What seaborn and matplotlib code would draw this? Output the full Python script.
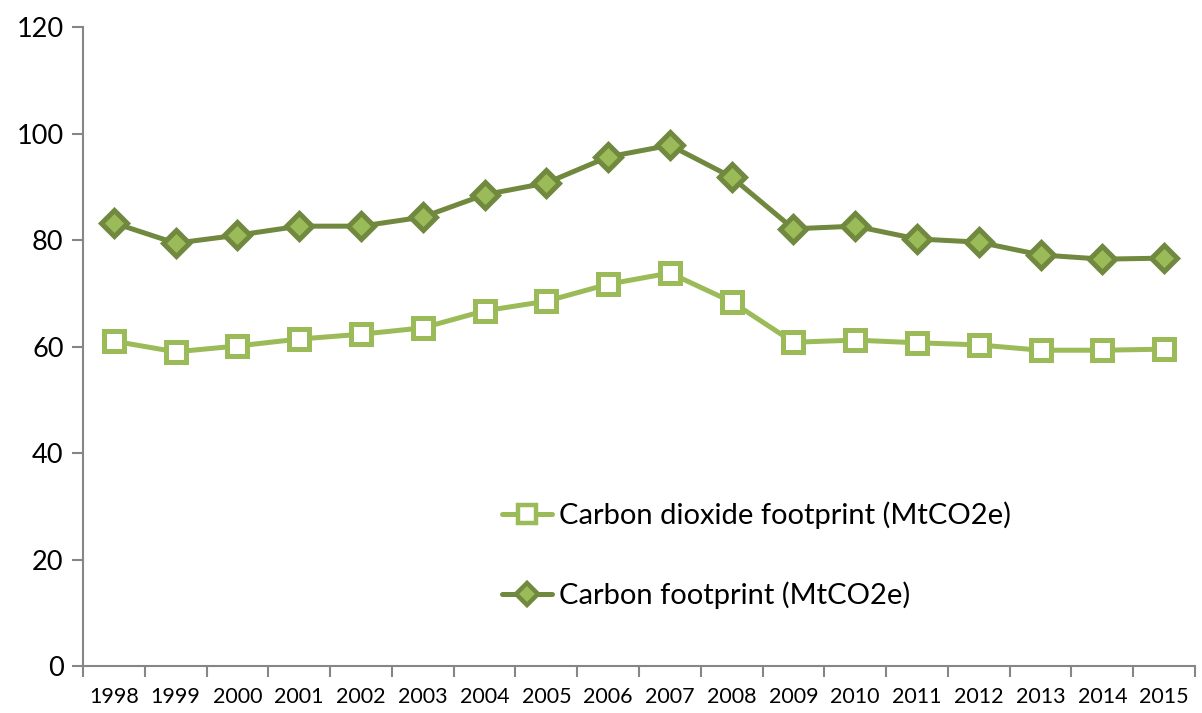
import numpy as np
import pandas as pd
import matplotlib
matplotlib.use("Agg")
import matplotlib.pyplot as plt
import seaborn as sns
from matplotlib.lines import Line2D

years = ["1998", "1999", "2000", "2001", "2002", "2003", "2004", "2005", "2006",
         "2007", "2008", "2009", "2010", "2011", "2012", "2013", "2014", "2015"]
co2_footprint = [61.0, 59.0, 60.1, 61.4, 62.3, 63.5, 66.7, 68.5, 71.7,
                 73.8, 68.4, 60.8, 61.2, 60.7, 60.3, 59.3, 59.3, 59.5]
carbon_footprint = [83.2, 79.4, 80.9, 82.6, 82.6, 84.3, 88.5, 90.7, 95.6,
                    97.8, 91.8, 82.1, 82.6, 80.2, 79.6, 77.2, 76.4, 76.6]
series_names = ["Carbon dioxide footprint (MtCO2e)", "Carbon footprint (MtCO2e)"]
y_ticks = [0, 20, 40, 60, 80, 100, 120]

light_green = "#9BBB59"
dark_green = "#71893F"
axis_grey = "#868686"

sns.set_theme(style="white")
plt.rcParams["font.family"] = ["Lato", "DejaVu Sans"]
plt.rcParams["text.color"] = "black"

fig = plt.figure(figsize=(12.02, 7.13), dpi=100)
ax = fig.add_axes([83 / 1202, 1 - 666 / 713, (1195 - 83) / 1202, (666 - 27) / 713])

pos = np.arange(len(years))
df = pd.DataFrame({"pos": pos, "co2": co2_footprint, "carbon": carbon_footprint})

sns.lineplot(data=df, x="pos", y="co2", ax=ax, color=light_green, linewidth=3.6,
             marker="s", markersize=15, markerfacecolor="white",
             markeredgecolor=light_green, markeredgewidth=3.6, zorder=3)
sns.lineplot(data=df, x="pos", y="carbon", ax=ax, color=dark_green, linewidth=3.6,
             marker="D", markersize=13, markerfacecolor=light_green,
             markeredgecolor=dark_green, markeredgewidth=3.6, zorder=3)

ax.set_xlim(-0.5, len(years) - 0.5)
ax.set_ylim(0, 120)
ax.set_yticks(y_ticks)
ax.set_yticklabels([str(t) for t in y_ticks], fontsize=19.5)
ax.set_xticks(pos)
ax.set_xticklabels(years, fontsize=15.5)
ax.set_xticks(np.arange(len(years) + 1) - 0.5, minor=True)
ax.tick_params(axis="x", which="major", length=0, pad=15, labelcolor="black")
ax.tick_params(axis="x", which="minor", length=8, width=1.5, color=axis_grey,
               direction="out", bottom=True)
ax.tick_params(axis="y", which="major", length=8, width=1.5, color=axis_grey,
               direction="out", left=True, pad=6, labelcolor="black")
ax.set_xlabel("")
ax.set_ylabel("")

for side in ["top", "right"]:
    ax.spines[side].set_visible(False)
for side in ["left", "bottom"]:
    ax.spines[side].set_color(axis_grey)
    ax.spines[side].set_linewidth(1.5)

handles = [
    Line2D([], [], color=light_green, linewidth=3.6, marker="s", markersize=13,
           markerfacecolor="white", markeredgecolor=light_green, markeredgewidth=3.2),
    Line2D([], [], color=dark_green, linewidth=3.6, marker="D", markersize=11,
           markerfacecolor=light_green, markeredgecolor=dark_green, markeredgewidth=3.2),
]
leg = ax.legend(handles, series_names, loc="upper left", bbox_to_anchor=(0.377, 0.257),
                frameon=False, fontsize=21, handlelength=1.7, handletextpad=0.25,
                labelspacing=1.78, borderpad=0, borderaxespad=0)
for t in leg.get_texts():
    t.set_color("black")

fig.savefig("out.png", dpi=100)
